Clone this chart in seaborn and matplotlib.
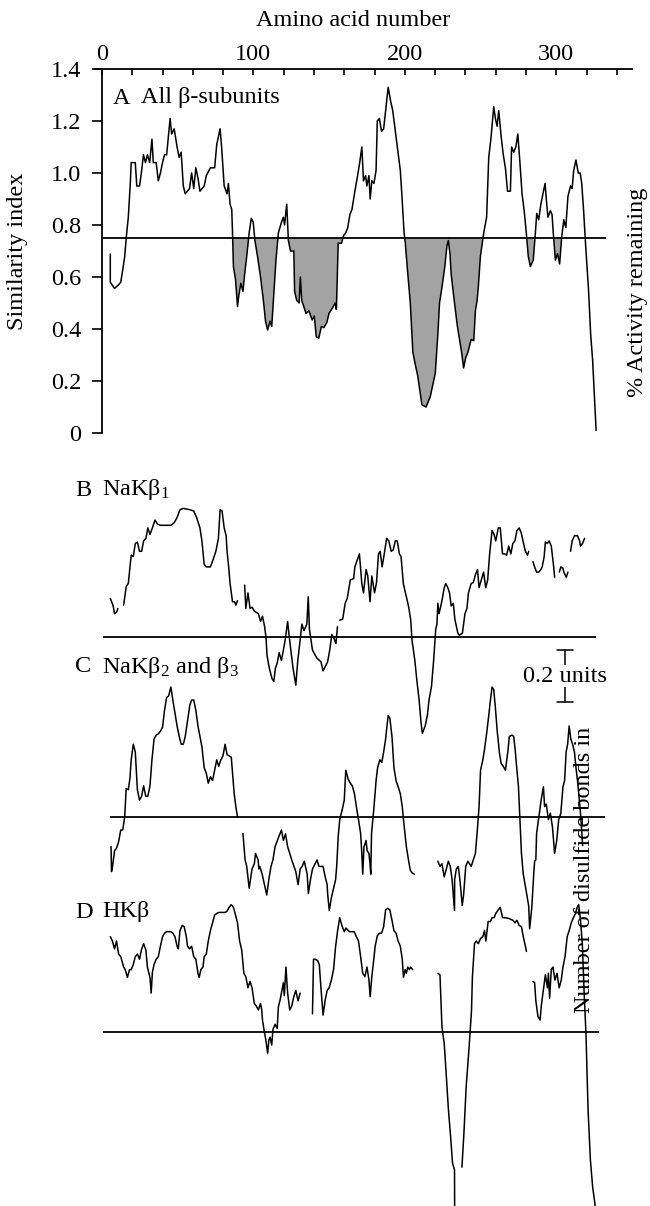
import numpy as np
import pandas as pd
import seaborn as sns
import matplotlib.pyplot as plt
from matplotlib.ticker import MultipleLocator

# similarity index along the sequence (amino acid number, value); None = gap
a_pts = [
    (5.5, .688), (5.5, .58), (8.3, .556), (11, .57), (12.4, .58), (13.7, .627), (15, .678), (16, .75),
    (17.4, .83), (18.8, .97), (19.3, 1.04), (22, 1.04), (23, .95), (24.8, .95), (26, 1.0), (27.4, 1.07),
    (28.7, 1.04), (30, 1.07), (31.5, 1.04), (33, 1.13), (33.9, 1.04), (35.8, 1.04), (37.2, .97), (38.6, 1.0),
    (40, 1.04), (41.3, 1.07), (42.7, 1.07), (45, 1.21), (46, 1.15), (47.7, 1.17), (49.6, 1.10), (51, 1.06),
    (52.3, 1.08), (53.7, .95), (55, .92), (57.8, .94), (59.2, 1.0), (60.6, .94), (62, 1.02), (63.4, .98),
    (64.7, .93), (67.5, .95), (68.9, .99), (71.6, 1.02), (74.4, 1.02), (75.8, 1.11), (78, 1.17), (79, 1.10),
    (80.7, .95), (82.6, .92), (83.5, .96), (84.6, .88), (85.7, .86), (86.2, .77), (86.8, .64), (88.2, .59),
    (89.5, .486), (90.4, .53), (91.7, .576), (93.1, .545), (94.2, .61), (95.6, .68), (97.2, .77), (98.6, .826),
    (99.9, .81), (101, .74), (102.7, .68), (104.7, .60), (106.6, .51), (108, .43), (109.4, .396), (111, .43),
    (112.1, .41), (113.5, .54), (114.9, .665), (116.5, .77), (118.5, .81), (119.8, .83), (120.6, .80), (122, .88),
    (123.1, .74), (124.5, .70), (126.7, .70), (127.2, .545), (128.6, .51), (130.2, .50), (131, .60), (131.9, .51),
    (133.3, .486), (134.7, .46), (136.6, .47), (138.8, .435), (140.2, .45), (141.5, .37), (143.2, .365), (144.9, .41),
    (146.5, .405), (148.5, .425), (149.9, .46), (152.1, .48), (154, .50), (154.8, .475), (156, .73), (158.2, .73),
    (159.6, .76), (161, .77), (162.3, .79), (163.7, .84), (165.1, .86), (167, .93), (168.8, .99), (170.2, 1.04),
    (171.6, 1.10), (172.7, .97), (174.1, .99), (174.9, .95), (176.3, .99), (177.1, .90), (178.2, .97), (179.6, .96),
    (181, 1.01), (181.8, 1.20), (183.2, 1.21), (184.6, 1.16), (186, 1.17), (187.3, 1.24), (189, 1.33), (190.5, 1.28),
    (192, 1.24), (193.3, 1.18), (195.3, 1.09), (197, 1.01), (198, .92), (199.5, .77), (200.3, .73), (201.7, .63),
    (203.6, .50), (205.3, .31), (207.2, .255), (208.5, .22), (209.9, .165), (211.3, .108), (214, .10), (216.8, .14),
    (218.2, .178), (220.1, .23), (221.8, .38), (222.9, .50), (224.5, .56), (226.4, .64), (227.8, .72), (228.7, .74),
    (229.8, .69), (230.6, .61), (232.8, .50), (234.7, .41), (237.5, .31), (238.8, .25), (240.2, .29), (241.6, .31),
    (243.8, .36), (245.5, .355), (246.6, .47), (247.7, .51), (248.5, .56), (249.9, .68), (252.1, .77), (254, .83),
    (255.4, 1.06), (256.8, 1.13), (258.7, 1.255), (259.8, 1.21), (260.9, 1.18), (262, 1.24), (263.6, 1.14), (265, 1.07),
    (266.4, 1.02), (267.8, .93), (269.7, .93), (270.5, 1.10), (271.9, 1.08), (273.3, 1.10), (274.6, 1.15), (276, 1.04),
    (277.4, .92), (278.8, .855), (280.2, .77), (281.5, .68), (282.9, .64), (284.8, .665), (286.2, .77), (287.1, .845),
    (288.4, .82), (289.8, .88), (291.2, .92), (292.6, .96), (293.4, .90), (294.5, .83), (296.1, .855), (297.2, .84),
    (298, .77), (299.4, .665), (300.8, .69), (302.2, .65), (303.6, .755), (305, .82), (306.3, .79), (307.7, .91),
    (309.4, .95), (310.5, .94), (311.5, 1.01), (313, 1.05), (314.5, 1.0), (315.8, 1.0), (316.8, .96), (318, .86),
    (319.4, .72), (321.3, .55), (322.7, .38), (324, .28), (325.3, .127), (326.3, .01),
]

b_pts = [
    (5.5, .899), (7.4, .87), (8.3, .84), (9.6, .845), (10.5, .86), None,
    (14.3, .873), (16, .944), (17.4, .957), (19.3, 1.065), (20.7, 1.06), (22, 1.11), (23.4, 1.115), (24.8, 1.08),
    (26.2, 1.08), (27.5, 1.12), (29, 1.13), (30.3, 1.17), (31.7, 1.145), (33, 1.165), (35, 1.2), (36.6, 1.185),
    (38.6, 1.18), (41.3, 1.18), (45.5, 1.18), (47.7, 1.19), (49.6, 1.21), (51.5, 1.24), (53.7, 1.245), (58, 1.24),
    (60.6, 1.235), (62.5, 1.21), (64.7, 1.17), (66, 1.12), (67.5, 1.03), (68.9, 1.02), (71.6, 1.02), (73.5, 1.05),
    (75.2, 1.08), (76.9, 1.13), (78, 1.24), (79.3, 1.235), (80.7, 1.17), (82, 1.14), (82.6, 1.08), (83.5, 1.03),
    (84.6, .956), (86.2, .886), (87.6, .886), (88.4, .873), (89.5, .89), None,
    (94.2, .95), (95, .86), (96.4, .92), (97.8, .86), (99.2, .865), (100.6, .85), (103.3, .84), (104.7, .81),
    (106, .83), (107.4, .79), (108.3, .75), (109, .68), (110.5, .63), (112.3, .59), (113.5, .58), (114.5, .63),
    (115.7, .65), (117, .69), (118.5, .66), (119.8, .70), (121, .74), (122.6, .81), (123.5, .76), (124.9, .69),
    (126.2, .63), (128, .565), (129.3, .66), (130.7, .73), (132, .80), (133.4, .775), (135.3, .80), (136.2, .905),
    (137, .78), (139, .70), (141.8, .67), (144.6, .655), (146, .62), (149, .655), (150.4, .70), (151.8, .76),
    (153.2, .745), (154.5, .725), (155.5, .79), None,
    (157, .815), (159, .82), (160.6, .88), (162, .90), (164, .97), (166.2, .975), (167, 1.02), (168.8, 1.05),
    (170, 1.07), (171.6, .956), (172.7, .92), (174.4, 1.01), (175.5, .985), (177, .886), (178.2, .985), (180, .92),
    (181.3, .96), (182.6, 1.07), (183.7, 1.08), (185, 1.02), (186.4, 1.07), (188, 1.13), (189.4, 1.12), (191, 1.08),
    (192.3, 1.085), (193.7, 1.12), (195, 1.12), (196.4, 1.07), (197.5, 1.06), (199, .956), (201, .905), (202.5, .867),
    (203.9, .815), (204.7, .74), (206.6, .66), (208, .58), (209.4, .51), (210.7, .42), (211.6, .38), (213.5, .41),
    (214.9, .45), (216, .51), (217.6, .56), (219, .66), (220.4, .78), (221.2, .80), (221.8, .88), (222.6, .84),
    (224.5, .89), (226, .94), (227, .956), (228.4, .94), (229.5, .92), (230.6, .87), (232, .88), (233, .82),
    (235, .765), (236, .757), (238, .765), (239.7, .84), (241, .86), (242, .92), (243.8, .956), (245.2, .96),
    (246.6, .99), (248, 1.01), (249, .94), (250.5, .97), (252, 1.0), (253.4, .94), (254.7, .97), (256, 1.07),
    (257.6, 1.16), (258.9, 1.145), (260, 1.12), (261.7, 1.17), (263, 1.17), (264.5, 1.07), (265.9, 1.07), (267.2, 1.065),
    (268.6, 1.10), (270, 1.07), (271.3, 1.11), (272.7, 1.12), (274, 1.16), (275.5, 1.17), (276.9, 1.15), (278, 1.12),
    (279.6, 1.08), (281, 1.065), (281.8, 1.08), None,
    (284.6, 1.04), (285.7, 1.02), (287, 1.0), (288.4, 1.0), (289.8, 1.01), (290.7, 1.02), (292, 1.06), (292.8, 1.116),
    (294, 1.11), (295.3, 1.12), (296.7, 1.10), (298.3, 1.02), (298.9, .98), None,
    (302, 1.0), (303, 1.02), (304.4, 1.015), (305, 1.0), (306.6, .98), (307.7, 1.0), None,
    (309.4, 1.08), (310.5, 1.12), (312, 1.14), (314, 1.14), (315.4, 1.12), (316, 1.10), (317.3, 1.11), (318.7, 1.13),
]

c_pts = [
    (6, .636), (6.3, .54), (7, .56), (8.3, .62), (9.6, .63), (11, .655), (12.4, .70), (13.7, .70),
    (15, .75), (16, .86), (17.4, .855), (18.5, .90), (19.3, .97), (20.7, 1.03), (22, 1.0), (23.4, .854),
    (24.8, .815), (26.2, .83), (27.5, .87), (28.9, .83), (30.3, .83), (31.7, .87), (33, .97), (34.4, 1.05),
    (35.8, 1.065), (37.2, 1.07), (38.6, 1.08), (40, 1.095), (41.3, 1.16), (42.7, 1.21), (44, 1.215), (45.5, 1.25),
    (46.8, 1.2), (48.2, 1.15), (49.6, 1.10), (51, 1.06), (52.3, 1.03), (53.7, 1.03), (55, 1.06), (56.5, 1.12),
    (58, 1.18), (59.2, 1.2), (60.6, 1.2), (62, 1.16), (63.4, 1.10), (64.7, 1.06), (66, 1.02), (67.5, .94),
    (68.9, .918), (70.2, .88), (71.6, .905), (73, .89), (74.4, .93), (75.8, .97), (77.1, .945), (78.5, .97),
    (79.9, .985), (81.3, 1.03), (82.6, .99), (84, .985), (85.4, .98), (86.2, .92), (87.3, .84), (88.4, .79),
    (89.5, .75), None,
    (93.1, .687), (94.5, .585), (95.6, .56), (97.2, .476), (99.1, .55), (100.6, .57), (101.4, .61), (103.1, .585),
    (103.6, .55), (104.2, .56), (105.8, .53), (108.8, .45), (110.2, .51), (111.6, .56), (112.9, .585), (114.3, .636),
    (116.5, .67), (118.5, .70), (119.8, .66), (121.2, .685), (122.6, .636), (124, .61), (125.3, .585), (128, .54),
    (129.5, .49), (130.9, .55), (132.2, .56), (133.6, .58), (135.5, .53), (136.3, .456), (137.7, .51), (139, .55),
    (142, .585), (143.3, .56), (146, .56), (147.4, .52), (148.7, .49), (149, .456), (150.1, .39), (151.5, .44),
    (152.9, .475), (154.3, .51), (155, .56), (156, .675), (157, .74), (158.7, .78), (160, .815), (161, .93),
    (162.6, .895), (164, .88), (165.3, .87), (166.7, .84), (168, .79), (169.4, .74), (170.8, .687), (171.6, .61),
    (172.2, .53), (173, .635), (174.4, .66), (175.1, .62), (176.3, .61), (177, .57), (177.5, .53), (178, .687),
    (179.5, .78), (181, .89), (182, .94), (183.5, .97), (184.8, .96), (186, 1.0), (187.3, 1.05), (188.2, 1.10),
    (189, 1.14), (190.1, 1.13), (191.5, 1.06), (192.8, .94), (194.2, .89), (195.6, .866), (197, .84), (198.3, .79),
    (199.1, .74), (201, .636), (202.4, .585), (203.6, .545), (204.9, .535), (206.3, .53), None,
    (221.8, .58), (223.2, .56), (224.5, .57), (226, .52), (227.4, .55), (228.7, .58), (230, .56), (231.2, .51),
    (232.8, .39), (232.9, .51), (234, .55), (235.3, .56), (236.5, .50), (237.9, .41), (238.8, .45), (240.2, .56),
    (241.6, .58), (243.8, .56), (245.2, .585), (246.6, .61), (248, .71), (249, .79), (250, .93), (251.5, .97),
    (252.6, 1.01), (254.2, 1.08), (255.4, 1.14), (256.5, 1.2), (257.6, 1.25), (258.7, 1.24), (259.8, 1.17), (261, 1.08),
    (262.5, .995), (263.6, .956), (265, .945), (266.4, .93), (268, 1.0), (269, 1.06), (270.8, 1.065), (271.9, 1.06),
    (273, 1.0), (274, .93), (275, .87), (276, .74), (277, .61), (278.2, .53), (280, .47), (281.8, .407),
    (282.4, .32), (283.8, .40), (285.1, .53), (285.7, .58), (286.5, .585), (287, .687), (288.5, .75), (290, .815),
    (291.5, .866), (292.3, .79), (293.4, .80), (294.8, .74), (296.1, .765), (297.5, .71), (298.9, .61), (300.3, .66),
    (301.6, .74), (303, .765), (304.4, .866), (305.5, .89), (306.5, 1.0), (307.5, 1.03), (308.5, 1.1), (309.6, 1.05),
    (310.8, 1.03), (312, 1.0), (313, .94), (314, .89), (315, .83), (316.2, .75), (317.4, .64),
]

d_pts = [
    (5.5, 1.117), (6.9, 1.10), (8.3, 1.07), (9.6, 1.10), (11, 1.05), (12.4, 1.04), (14.3, 1.0), (15.4, .99),
    (16.8, .96), (18.2, .99), (19.3, .99), (20.7, 1.01), (22, 1.04), (23.4, 1.05), (24.8, 1.03), (26, 1.065),
    (27.5, 1.09), (29, 1.065), (30, 1.0), (31.7, .96), (32.5, .90), (33.3, .98), (34.4, 1.01), (35.8, 1.03),
    (37.2, 1.04), (38.6, 1.08), (40, 1.117), (41.3, 1.13), (42.7, 1.136), (45.5, 1.136), (46.8, 1.13), (48.2, 1.117),
    (49.6, 1.08), (50.4, 1.07), (51.5, 1.14), (53, 1.16), (54.3, 1.155), (55.7, 1.117), (56.5, 1.08), (57.8, 1.07),
    (59.2, 1.08), (60.6, 1.04), (62, 1.03), (63.4, .976), (64.2, .96), (65.3, .99), (66.7, 1.0), (67.5, 1.04),
    (68.9, 1.05), (70.2, 1.10), (71.6, 1.14), (73, 1.17), (74.4, 1.2), (75.8, 1.206), (77.1, 1.21), (81.3, 1.21),
    (82.6, 1.215), (84, 1.23), (85.4, 1.24), (86.8, 1.23), (88.2, 1.2), (89.5, 1.17), (90.9, 1.10), (92.3, 1.065),
    (93.7, .976), (95, .963), (96.4, .92), (97.8, .945), (99.1, .92), (100.6, .86), (101.9, .85), (103.3, .835),
    (104.7, .86), (105.5, .835), (106, .796), (107.4, .745), (108.2, .72), (109.4, .668), (110.2, .72), (111, .73),
    (112.1, .70), (112.9, .76), (114.3, .78), (115.7, .764), (116.5, .847), (117.6, .873), (118.5, .90), (119.8, .94),
    (120.4, .89), (121.5, 1.0), (122.6, .90), (124, .835), (125.3, .85), (126.7, .886), (128, .91), (129.5, .87),
    (130.9, .90), None,
    (139, .82), (139.7, 1.03), (140.8, 1.03), (142.4, 1.025), (143.5, 1.01), (144.6, .92), (146, .815), (147.4, .873),
    (148.7, .91), (150, .92), (151.5, .95), (152.9, .99), (154.3, 1.08), (155.6, 1.14), (157, 1.19), (158.4, 1.16),
    (160, 1.136), (161.1, 1.15), (163.4, 1.136), (166.5, 1.136), (168, 1.117), (169.4, 1.10), (170.8, 1.04), (172.2, .976),
    (173.6, .963), (175, 1.0), (176.3, .95), (177.1, .886), (178.2, .963), (179.5, 1.03), (180.4, 1.08), (181.8, 1.12),
    (183.2, 1.13), (184.6, 1.13), (186, 1.155), (187.3, 1.22), (188.7, 1.226), (190.1, 1.22), (191.5, 1.18), (192.8, 1.14),
    (194.2, 1.13), (195.6, 1.10), (197, 1.08), (198.3, 1.03), (199.1, .96), (200.2, .99), (201, .976), (201.9, 1.0),
    (203, .99), (203.8, 1.0), (205.2, .99), None,
    (221.8, .976), (223.2, .97), (224.5, .77), (226, .706), (227.4, .58), (228.8, .45), (230.2, .35), (231.5, .245),
    (232.8, .22), (232.9, .05), None,
    (237.7, .23), (239, .36), (240.5, .54), (242.4, .69), (244, .83), (244.6, .96), (246, 1.09), (247.1, 1.10),
    (248.5, 1.09), (250, 1.11), (251.5, 1.117), (252.6, 1.14), (253.5, 1.10), (255, 1.175), (256.5, 1.175), (257.6, 1.19),
    (259, 1.19), (260, 1.206), (261.7, 1.22), (263, 1.23), (264.5, 1.19), (265.9, 1.19), (268.6, 1.187), (271.3, 1.18),
    (272.7, 1.17), (274, 1.18), (275.5, 1.16), (277, 1.155), (278.2, 1.117), (279.6, 1.08), (280.3, 1.06), None,
    (284.6, .944), (285.7, .94), (286.5, .87), (287.9, .81), (289.3, .796), (290.1, .85), (291.2, .90), (292.8, .97),
    (294.2, .92), (294.8, .976), (295.6, .88), (296.7, .99), (297.8, 1.0), (299.1, .95), (300.5, .976), (301.9, .92),
    (303.3, .95), (304.4, 1.0), (305.8, 1.04), (307.2, 1.117), (308.5, 1.14), (309.9, 1.17), (311.3, 1.19), (312.7, 1.206),
    (313.8, 1.23), (314.8, 1.24), (316, 1.18), (317.2, 1.09), (318.4, .90), (319.6, .745), (321, .45), (322.5, .26),
    (324, .155), (325.5, .09), (326.5, 0.0),
]

panel_names = ["A", "B", "C", "D"]
panel_titles = ["All β-subunits", "NaKβ$_1$", "NaKβ$_2$ and β$_3$", "HKβ"]
panel_shift = [0.0, -1.535, -2.227, -3.054]   # vertical offset of each trace
threshold = 0.75

rows = []
for name, pts, shift in zip(panel_names, [a_pts, b_pts, c_pts, d_pts], panel_shift):
    seg = 0
    for p in pts:
        if p is None:
            seg += 1
            continue
        rows.append((name, f"{name}{seg}", p[0], p[1] + shift))
df = pd.DataFrame(rows, columns=["panel", "seg", "aa", "y"])

sns.set_theme(style="white", rc={
    "axes.edgecolor": "black", "text.color": "black", "axes.labelcolor": "black",
    "xtick.color": "black", "ytick.color": "black",
})
plt.rcParams["font.family"] = ["Liberation Serif", "DejaVu Serif"]
plt.rcParams["mathtext.fontset"] = "custom"
plt.rcParams["mathtext.rm"] = "Liberation Serif"
plt.rcParams["mathtext.it"] = "Liberation Serif:italic"

FS = 17.5
W, H = 650, 1206

fig = plt.figure(figsize=(6.5, 12.06), dpi=100)
ax = fig.add_axes([95 / W, 0, 537 / W, 1 - 69 / H])
ax.set_xlim(-4.6, 350)
ax.set_ylim(1.4 - 1137 / 260, 1.4)

# grey fill where panel A dips under the threshold
da = df[df.panel == "A"]
ax.fill_between(da.aa, da.y, threshold,
                where=(da.y < threshold) & (da.aa > 80) & (da.aa < 310),
                interpolate=True, color="#a3a3a3", lw=0, zorder=1)

sns.lineplot(data=df, x="aa", y="y", units="seg", estimator=None, sort=False,
             color="black", lw=1.1, legend=False, ax=ax, zorder=3)

# threshold line for each panel
line_spans = [(0, 333), (0.7, 326), (5, 332), (0.7, 328)]
for shift, (x0, x1) in zip(panel_shift, line_spans):
    ax.hlines(threshold + shift, x0, x1, color="black", lw=1.3, zorder=2)

# 0.2-unit scale bar
bar_x, bar_top = 306, -0.835
ax.plot([bar_x, bar_x], [bar_top, bar_top - 0.2], color="black", lw=1.1)
for yy in [bar_top, bar_top - 0.2]:
    ax.plot([bar_x - 5.3, bar_x + 5.3], [yy, yy], color="black", lw=1.1)
ax.text(bar_x, bar_top - 0.1, "0.2 units", ha="center", va="center", fontsize=FS,
        bbox=dict(facecolor="white", edgecolor="none", pad=0.5), zorder=5)

# axes styling
for side in ["right", "bottom"]:
    ax.spines[side].set_visible(False)
ax.spines["left"].set_position(("data", 0))
ax.spines["left"].set_bounds(0, 1.4)
for side in ["left", "top"]:
    ax.spines[side].set_linewidth(1.3)

ax.xaxis.tick_top()
ax.set_xticks([0, 100, 200, 300])
ax.xaxis.set_minor_locator(MultipleLocator(20))
ax.tick_params(axis="x", which="both", direction="in", length=4, width=1.2,
               top=True, bottom=False, labeltop=True, labelbottom=False,
               labelsize=FS, pad=3)
yt = np.arange(0, 1.41, 0.2)
ax.set_yticks(yt)
ax.set_yticklabels(["0"] + [f"{v:.1f}" for v in yt[1:]])
ax.tick_params(axis="y", direction="out", length=7, width=1.2, left=True, right=False,
               labelsize=FS, pad=8)
ax.set_xlabel("")
ax.set_ylabel("")
ax.grid(False)

def px(x, y):
    return x / W, 1 - y / H

fig.text(*px(353, 20), "Amino acid number", ha="center", va="center", fontsize=FS)
fig.text(*px(18, 251), "Similarity index", rotation=90, ha="center", va="center", fontsize=FS)
fig.text(*px(637, 292), "% Activity remaining", rotation=90, ha="center", va="center", fontsize=FS)
fig.text(*px(585, 870), "Number of disulfide bonds in", rotation=90, ha="center", va="center",
         fontsize=FS, zorder=6)

label_pos = [(113, 141, 98), (75, 102, 490), (75, 102, 667), (75, 102, 912)]
for name, title, (lx, tx, ty) in zip(panel_names, panel_titles, label_pos):
    fig.text(*px(lx, ty), name, ha="left", va="center", fontsize=FS)
    fig.text(*px(tx, ty), title, ha="left", va="center", fontsize=FS)

fig.savefig("out.png", dpi=100)
